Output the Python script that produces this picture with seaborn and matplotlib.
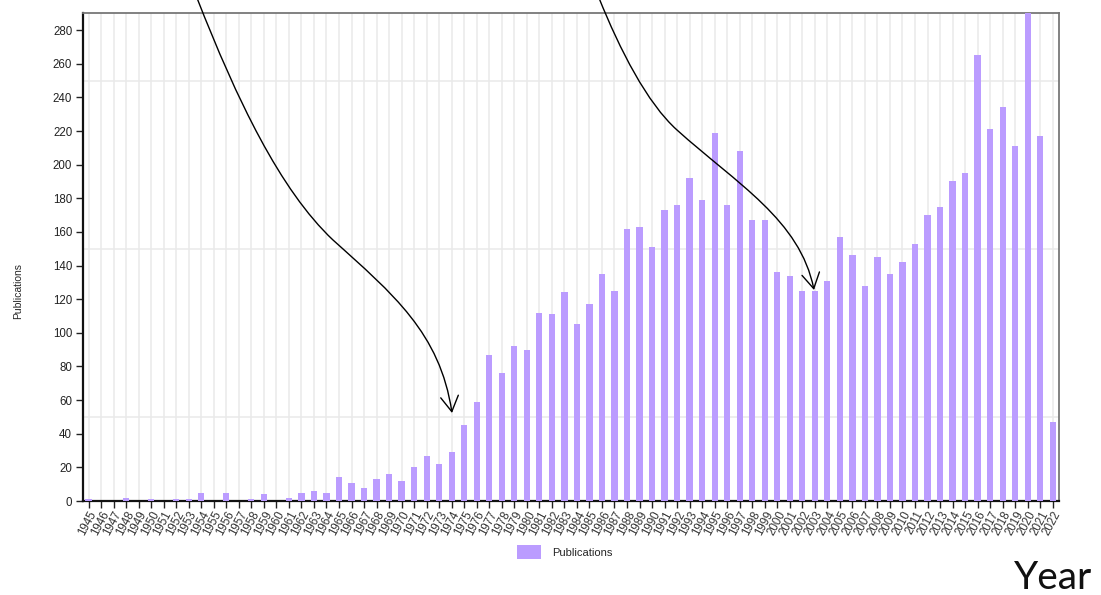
import matplotlib
matplotlib.use("Agg")
import matplotlib.pyplot as plt
from matplotlib.path import Path
from matplotlib.patches import FancyArrowPatch
import seaborn as sns
import pandas as pd

# Publications per year
years = list(range(1945, 2023))
publications = [
    1, 0, 0, 2, 0, 1, 0, 1, 1, 5,          # 1945-1954
    0, 5, 0, 1, 4, 0, 2, 5, 6, 5,          # 1955-1964
    14, 11, 8, 13, 16, 12, 20, 27, 22, 29,  # 1965-1974
    45, 59, 87, 76, 92, 90, 112, 111, 124, 105,  # 1975-1984
    117, 135, 125, 162, 163, 151, 173, 176, 192, 179,  # 1985-1994
    219, 176, 208, 167, 167, 136, 134, 125, 125, 131,  # 1995-2004
    157, 146, 128, 145, 135, 142, 153, 170, 175, 190,  # 2005-2014
    195, 265, 221, 234, 211, 290, 217, 47,  # 2015-2022
]
y_ticks = list(range(0, 281, 20))
y_grid = [50, 100, 150, 200, 250]
series_name = "Publications"
bar_color = "#bb9cff"

df = pd.DataFrame({"Year": [str(y) for y in years], series_name: publications})

sns.set_theme(style="white")
plt.rcParams["font.family"] = ["Liberation Sans", "DejaVu Sans"]

W, H = 1101, 595
fig = plt.figure(figsize=(W / 100, H / 100), dpi=100)
ax = fig.add_axes([83.3 / W, 1 - 501 / H, (1059 - 83.3) / W, (501 - 13.3) / H])

sns.barplot(data=df, x="Year", y=series_name, color=bar_color, saturation=1,
            width=0.5, linewidth=0, label=series_name, ax=ax, zorder=3)
if ax.get_legend() is not None:
    ax.get_legend().remove()

ax.set_xlim(-0.42, 77.5)
ax.set_ylim(0, 290)
ax.set_yticks(y_ticks)
ax.set_yticks(y_grid, minor=True)
ax.set_xlabel("")
ax.set_ylabel(series_name, fontsize=7.5, labelpad=22)
ax.yaxis.set_label_coords(-0.0615, 0.43)

# light grid: one vertical line per year, horizontal lines every 50
ax.grid(True, axis="x", which="major", color="#e9e9e9", linewidth=1.1, zorder=0)
ax.grid(True, axis="y", which="minor", color="#e9e9e9", linewidth=1.1, zorder=0)
ax.grid(False, axis="y", which="major")
ax.set_axisbelow(True)

ax.tick_params(axis="y", which="major", direction="out", length=5, width=1,
               color="#222222", labelsize=8.3, pad=3, left=True)
ax.tick_params(axis="y", which="minor", length=0)
ax.tick_params(axis="x", which="major", direction="out", length=5, width=1,
               color="#222222", labelsize=8.3, pad=1, bottom=True)
for lbl in ax.get_xticklabels():
    lbl.set_rotation(62)
    lbl.set_ha("right")
    lbl.set_va("top")
    lbl.set_rotation_mode("anchor")
    lbl.set_color("#333333")
for lbl in ax.get_yticklabels():
    lbl.set_color("#222222")

for side in ("left", "bottom"):
    ax.spines[side].set_color("#111111")
    ax.spines[side].set_linewidth(1.6)
for side in ("top", "right"):
    ax.spines[side].set_color("#777777")
    ax.spines[side].set_linewidth(1.3)

handles, labels = ax.get_legend_handles_labels()
fig.legend(handles[:1], labels[:1], loc="center", bbox_to_anchor=(565 / W, 1 - 552 / H),
           frameon=False, fontsize=8, handlelength=2.2, handleheight=1.45,
           handletextpad=1.0, borderpad=0)

fig.text(1014 / W, 1 - 589 / H, "Year", fontsize=28, family=["Lato", "DejaVu Sans"],
         ha="left", va="baseline", color="#111111")


def fig_pt(x, y):
    return (x / W, 1 - y / H)


def curved_arrow(points):
    verts = [fig_pt(*p) for p in points]
    codes = [Path.MOVETO] + [Path.CURVE4] * (len(verts) - 1)
    arrow = FancyArrowPatch(path=Path(verts, codes), transform=fig.transFigure,
                            arrowstyle="->,head_length=0.55,head_width=0.32",
                            mutation_scale=20, color="black", linewidth=1.0,
                            zorder=10)
    fig.add_artist(arrow)


curved_arrow([(197, -2), (237, 100), (280, 190), (333, 240),
              (393, 294), (440, 333), (452, 413)])
curved_arrow([(599, -2), (620, 50), (647, 103), (677, 130),
              (737, 184), (800, 220), (814, 290)])

fig.savefig("out.png", dpi=100)
